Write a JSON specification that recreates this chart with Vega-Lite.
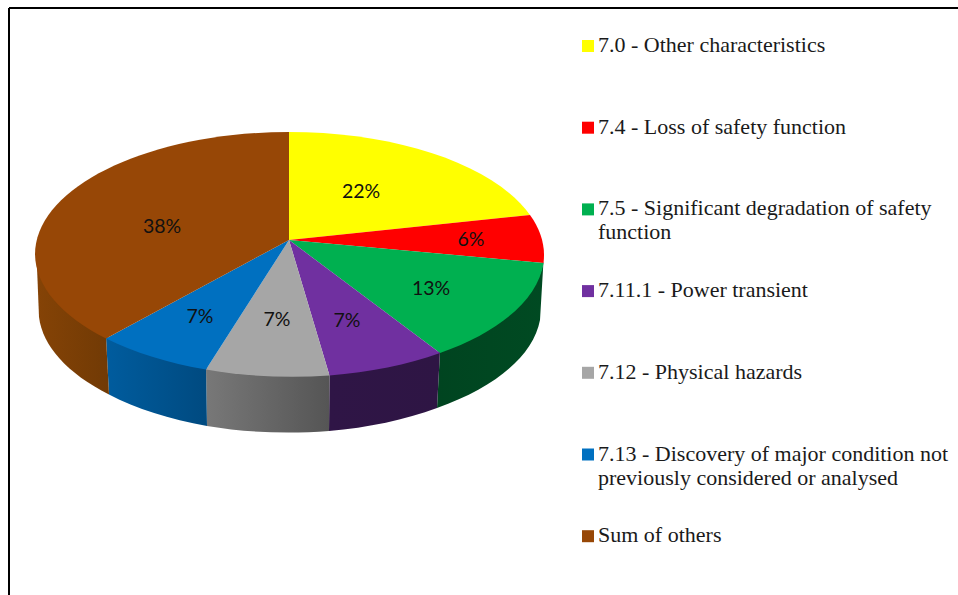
{
"$schema":"https://vega.github.io/schema/vega-lite/v6.json",
"width":949,"height":587,"padding":{"left":9,"top":8,"right":0,"bottom":0},"autosize":"none",
"background":"white",
"config":{"view":{"stroke":null},"text":{"font":"Lato","fontSize":19.5,"color":"#111111"}},
"datasets":{"slices":[
{"slice":"7.0 - Other characteristics","share":0.22},
{"slice":"7.4 - Loss of safety function","share":0.06},
{"slice":"7.5 - Significant degradation of safety function","share":0.13},
{"slice":"7.11.1 - Power transient","share":0.07},
{"slice":"7.12 - Physical hazards","share":0.07},
{"slice":"7.13 - Discovery of major condition not previously considered or analysed","share":0.07},
{"slice":"Sum of others","share":0.38}
]},
"data":{"name":"slices"},
"layer":[
{"mark":{"type":"rule","stroke":"#000000","strokeWidth":2},"encoding":{"x":{"value":0}}},
{"mark":{"type":"rule","stroke":"#000000","strokeWidth":2},"encoding":{"y":{"value":0}}},
{"mark":{"type":"point","filled":true,"opacity":1,"size":1,"shape":"square"},
 "encoding":{
  "color":{"field":"slice","type":"nominal","scale":{
   "domain":["7.0 - Other characteristics","7.4 - Loss of safety function","7.5 - Significant degradation of safety function","7.11.1 - Power transient","7.12 - Physical hazards","7.13 - Discovery of major condition not previously considered or analysed","Sum of others"],
   "range":["#FFFF00","#FF0000","#00B050","#7030A0","#A6A6A6","#0070C0","#974706"]},
   "legend":{"title":null,"orient":"none","legendX":568,"legendY":27,"symbolType":"square","symbolSize":144,"symbolOpacity":1,"symbolStrokeWidth":0,
    "labelFont":"Liberation Serif","labelFontSize":22,"labelColor":"#1a1a1a","labelOffset":-1,"labelLimit":400,"labelLineHeight":25,"rowPadding":35.7,"labelBaseline":"top",
    "encoding":{"labels":{"dy":{"value":-11}}},
    "labelExpr":"datum.label == '7.5 - Significant degradation of safety function' ? ['7.5 - Significant degradation of safety','function'] : datum.label == '7.13 - Discovery of major condition not previously considered or analysed' ? ['7.13 - Discovery of major condition not','previously considered or analysed'] : [datum.label,' ']"}}
 }},
{"transform":[{"filter":"datum.slice == '7.5 - Significant degradation of safety function'"}],
 "mark":{"type":"point","filled":true,"opacity":1,"size":4,"strokeWidth":0,"shape":"M60,-40.5 A254.5,122.5 0 0 1 -43.5,49.5 L-46.5,106.5 A250.5,122 0 0 0 56.5,18.5 Z",
 "fill":{"gradient":"linear","x1":0,"y1":0,"x2":1,"y2":0,"stops":[{"offset":0,"color":"#004420"},{"offset":1,"color":"#004a22"}]}}},
{"transform":[{"filter":"datum.slice == '7.11.1 - Power transient'"}],
 "mark":{"type":"point","filled":true,"opacity":1,"size":4,"strokeWidth":0,"shape":"M-43.5,49.5 A254.5,122.5 0 0 1 -154,72 L-154.5,129.5 A250.5,122 0 0 0 -46.5,106.5 Z",
 "fill":{"gradient":"linear","x1":0,"y1":0,"x2":1,"y2":0,"stops":[{"offset":0,"color":"#2f1546"},{"offset":1,"color":"#2e1544"}]}}},
{"transform":[{"filter":"datum.slice == '7.12 - Physical hazards'"}],
 "mark":{"type":"point","filled":true,"opacity":1,"size":4,"strokeWidth":0,"shape":"M-154,72 A254.5,122.5 0 0 1 -277.5,66 L-276.5,124.5 A250.5,122 0 0 0 -154.5,129.5 Z",
 "fill":{"gradient":"linear","x1":0,"y1":0,"x2":1,"y2":0,"stops":[{"offset":0,"color":"#787878"},{"offset":1,"color":"#555555"}]}}},
{"transform":[{"filter":"datum.slice == '7.13 - Discovery of major condition not previously considered or analysed'"}],
 "mark":{"type":"point","filled":true,"opacity":1,"size":4,"strokeWidth":0,"shape":"M-277.5,66 A254.5,122.5 0 0 1 -377.5,35 L-374.5,93 A250.5,122 0 0 0 -276.5,124.5 Z",
 "fill":{"gradient":"linear","x1":0,"y1":0,"x2":1,"y2":0,"stops":[{"offset":0,"color":"#005c9e"},{"offset":1,"color":"#004a80"}]}}},
{"transform":[{"filter":"datum.slice == 'Sum of others'"}],
 "mark":{"type":"point","filled":true,"opacity":1,"size":4,"strokeWidth":0,"shape":"M-377.5,35 L-447,-47 L-444.5,15.5 A250.5,122 0 0 0 -374.5,93 Z",
 "fill":{"gradient":"linear","x1":0,"y1":0,"x2":1,"y2":0,"stops":[{"offset":0,"color":"#854306"},{"offset":1,"color":"#713a05"}]}}},
{"transform":[{"filter":"datum.slice == '7.0 - Other characteristics'"}],"mark":{"type":"point","filled":true,"opacity":1,"size":4,"strokeWidth":0,"fill":"#FFFF00","shape":"M-194.5,-61.5 L-194.5,-169.5 A254.5,122.5 0 0 1 46.5,-86.5 Z"}},
{"transform":[{"filter":"datum.slice == '7.4 - Loss of safety function'"}],"mark":{"type":"point","filled":true,"opacity":1,"size":4,"strokeWidth":0,"fill":"#FF0000","shape":"M-194.5,-61.5 L46.5,-86.5 A254.5,122.5 0 0 1 60,-38.5 Z"}},
{"transform":[{"filter":"datum.slice == '7.5 - Significant degradation of safety function'"}],"mark":{"type":"point","filled":true,"opacity":1,"size":4,"strokeWidth":0,"fill":"#00B050","shape":"M-194.5,-61.5 L60,-38.5 A254.5,122.5 0 0 1 -43.5,51.5 Z"}},
{"transform":[{"filter":"datum.slice == '7.11.1 - Power transient'"}],"mark":{"type":"point","filled":true,"opacity":1,"size":4,"strokeWidth":0,"fill":"#7030A0","shape":"M-194.5,-61.5 L-43.5,51.5 A254.5,122.5 0 0 1 -154,74 Z"}},
{"transform":[{"filter":"datum.slice == '7.12 - Physical hazards'"}],"mark":{"type":"point","filled":true,"opacity":1,"size":4,"strokeWidth":0,"fill":"#A6A6A6","shape":"M-194.5,-61.5 L-154,74 A254.5,122.5 0 0 1 -277.5,68 Z"}},
{"transform":[{"filter":"datum.slice == '7.13 - Discovery of major condition not previously considered or analysed'"}],"mark":{"type":"point","filled":true,"opacity":1,"size":4,"strokeWidth":0,"fill":"#0070C0","shape":"M-194.5,-61.5 L-277.5,68 A254.5,122.5 0 0 1 -377.5,37 Z"}},
{"transform":[{"filter":"datum.slice == 'Sum of others'"}],"mark":{"type":"point","filled":true,"opacity":1,"size":4,"strokeWidth":0,"fill":"#974706","shape":"M-194.5,-61.5 L-377.5,37 A254.5,122.5 0 0 1 -448.5,-47 A254.5,122.5 0 0 1 -194.5,-169.5 Z"}},
{"transform":[{"filter":"datum.slice == '7.0 - Other characteristics'"}],"mark":{"type":"text","dx":-122.5,"dy":-109.5},"encoding":{"text":{"field":"share","type":"quantitative","format":".0%"}}},
{"transform":[{"filter":"datum.slice == '7.4 - Loss of safety function'"}],"mark":{"type":"text","dx":-12.5,"dy":-61.5},"encoding":{"text":{"field":"share","type":"quantitative","format":".0%"}}},
{"transform":[{"filter":"datum.slice == '7.5 - Significant degradation of safety function'"}],"mark":{"type":"text","dx":-52.5,"dy":-12.5},"encoding":{"text":{"field":"share","type":"quantitative","format":".0%"}}},
{"transform":[{"filter":"datum.slice == '7.11.1 - Power transient'"}],"mark":{"type":"text","dx":-136.5,"dy":19.5},"encoding":{"text":{"field":"share","type":"quantitative","format":".0%"}}},
{"transform":[{"filter":"datum.slice == '7.12 - Physical hazards'"}],"mark":{"type":"text","dx":-206.5,"dy":18.5},"encoding":{"text":{"field":"share","type":"quantitative","format":".0%"}}},
{"transform":[{"filter":"datum.slice == '7.13 - Discovery of major condition not previously considered or analysed'"}],"mark":{"type":"text","dx":-283.5,"dy":15.5},"encoding":{"text":{"field":"share","type":"quantitative","format":".0%"}}},
{"transform":[{"filter":"datum.slice == 'Sum of others'"}],"mark":{"type":"text","dx":-321.5,"dy":-74.5},"encoding":{"text":{"field":"share","type":"quantitative","format":".0%"}}}
]
}
